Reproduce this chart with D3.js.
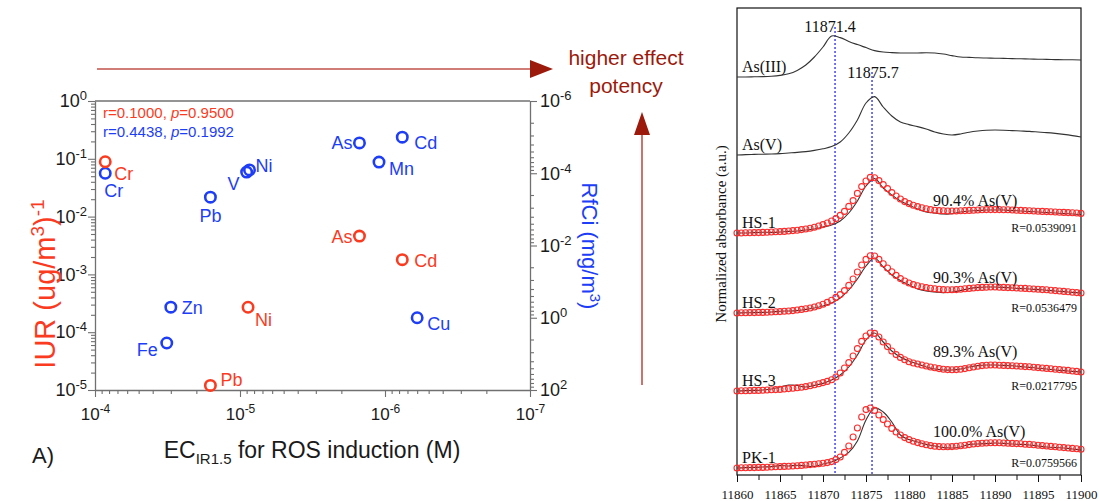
<!DOCTYPE html>
<html lang="en">
  <head>
    <meta charset="UTF-8" />
    <title>ROS induction and As XANES</title>
    <style>
      body {
        margin: 0;
        background: #fff;
      }
      svg {
        display: block;
      }
      text {
        font-family: "Liberation Sans", Arial, sans-serif;
      }
      text.serif,
      .serif text {
        font-family: "Liberation Serif", "Times New Roman", serif;
      }
    </style>
  </head>
  <body>
    <svg id="svg" width="1099" height="501"></svg>
    <script src="https://cdn.jsdelivr.net/npm/d3@7"></script>
    <script>
      // ---------- panel A: IUR / RfCi vs EC ----------
      const iurMetals = ["Cr", "As", "Cd", "Ni", "Pb"];
      const iurEC = [8.5e-5, 1.5e-6, 7.6e-7, 8.8e-6, 1.6e-5];
      const iurValues = [0.089, 4.6e-3, 1.8e-3, 2.7e-4, 1.2e-5];

      const rfcMetals = ["Cr", "Pb", "V", "Ni", "As", "Cd", "Mn", "Zn", "Fe", "Cu"];
      const rfcEC = [8.5e-5, 1.6e-5, 9.0e-6, 8.6e-6, 1.5e-6, 7.6e-7, 1.1e-6, 3.0e-5, 3.2e-5, 6.0e-7];
      const rfcValues = [1.0e-4, 4.6e-4, 9.3e-5, 8.1e-5, 1.45e-5, 1.0e-5, 4.9e-5, 0.51, 5.0, 1.0];

      const corrR = ["0.1000", "0.4438"];
      const corrP = ["0.9500", "0.1992"];

      // ---------- panel B: As K-edge XANES ----------
      const spectraNames = ["As(III)", "As(V)", "HS-1", "HS-2", "HS-3", "PK-1"];
      const spectraOffsets = [19.9, 16.0, 12.1, 8.1, 4.2, 0.35];
      const peakEnergies = [11871.4, 11875.7];

      // measured spectra, 11860..11900 eV every 1 eV
      const asIII = [
        0.0, 0.0, 0.01, 0.02, 0.04, 0.08, 0.16, 0.33, 0.6, 1.0,
        1.5, 2.05, 1.97, 1.78, 1.62, 1.47, 1.32, 1.25, 1.22, 1.2,
        1.2, 1.2, 1.21, 1.2, 1.15, 1.07, 1.0, 0.98, 0.96, 0.95,
        0.94, 0.93, 0.92, 0.91, 0.9, 0.89, 0.88, 0.87, 0.86, 0.86,
        0.85,
      ];
      const asV = [
        0.0, 0.02, 0.03, 0.04, 0.05, 0.07, 0.1, 0.13, 0.17, 0.23,
        0.31, 0.42, 0.65, 1.1, 1.75, 2.6, 2.92, 2.4, 1.95, 1.65,
        1.52, 1.42, 1.3, 1.15, 1.05, 1.0, 1.05, 1.14, 1.2, 1.24,
        1.25, 1.24, 1.22, 1.2, 1.18, 1.15, 1.12, 1.08, 1.03, 0.97,
        0.9,
      ];
      const hs1 = [
        0.0, 0.0, 0.02, 0.04, 0.03, 0.05, 0.08, 0.1, 0.15, 0.2,
        0.3, 0.4, 0.6, 1.0, 1.6, 2.35, 2.72, 2.25, 1.9, 1.6,
        1.4, 1.2, 1.05, 1.0, 0.95, 0.96, 1.05, 1.1, 1.12, 1.15,
        1.15, 1.15, 1.12, 1.1, 1.07, 1.05, 1.02, 1.0, 0.97, 0.95,
        0.92,
      ];
      const hs2 = [
        0.0, 0.01, 0.02, 0.03, 0.05, 0.09, 0.1, 0.12, 0.18, 0.25,
        0.35, 0.5, 0.75, 1.15, 1.7, 2.35, 2.75, 2.3, 1.9, 1.62,
        1.4, 1.2, 1.1, 1.05, 1.02, 1.05, 1.12, 1.22, 1.28, 1.3,
        1.3, 1.28, 1.25, 1.22, 1.2, 1.17, 1.14, 1.1, 1.07, 1.03,
        1.0,
      ];
      const hs3 = [
        0.0, 0.02, 0.03, 0.05, 0.1, 0.2, 0.3, 0.28, 0.2, 0.28,
        0.38, 0.55, 0.8, 1.2, 1.8, 2.55, 2.9, 2.45, 2.0, 1.7,
        1.5, 1.35, 1.2, 1.1, 1.05, 1.05, 1.1, 1.2, 1.27, 1.3,
        1.3, 1.28, 1.26, 1.22, 1.18, 1.14, 1.1, 1.05, 1.02, 0.98,
        0.95,
      ];
      const pk1 = [
        0.0, 0.02, 0.03, 0.05, 0.07, 0.12, 0.1, 0.14, 0.1, 0.08,
        0.2, 0.3, 0.5, 0.78, 1.35, 2.4, 3.0, 2.8, 2.3, 1.65,
        1.42, 1.3, 1.18, 1.1, 1.02, 1.0, 1.05, 1.18, 1.2, 1.22,
        1.25, 1.23, 1.2, 1.18, 1.15, 1.1, 1.05, 1.02, 1.0, 0.95,
        0.9,
      ];

      // linear combination fits, 11860..11900 eV every 0.5 eV
      const fitNames = ["HS-1", "HS-2", "HS-3", "PK-1"];
      const fitPercent = ["90.4% As(V)", "90.3% As(V)", "89.3% As(V)", "100.0% As(V)"];
      const fitR = ["R=0.0539091", "R=0.0536479", "R=0.0217795", "R=0.0759566"];
      const fitHS1 = [
        0.0, 0.0, 0.01, 0.01, 0.02, 0.02, 0.03, 0.04, 0.05, 0.06,
        0.07, 0.08, 0.1, 0.12, 0.14, 0.17, 0.2, 0.24, 0.29, 0.35,
        0.42, 0.5, 0.6, 0.72, 0.88, 1.08, 1.33, 1.62, 1.98, 2.32,
        2.6, 2.78, 2.76, 2.62, 2.42, 2.22, 2.02, 1.85, 1.7, 1.57,
        1.47, 1.39, 1.32, 1.26, 1.21, 1.17, 1.14, 1.12, 1.11, 1.1,
        1.1, 1.1, 1.11, 1.12, 1.13, 1.14, 1.15, 1.16, 1.17, 1.17,
        1.17, 1.17, 1.16, 1.16, 1.15, 1.14, 1.13, 1.12, 1.11, 1.1,
        1.09, 1.08, 1.07, 1.06, 1.05, 1.04, 1.03, 1.02, 1.01, 1.0,
        0.98,
      ];
      const fitHS2 = [
        0.0, 0.01, 0.01, 0.02, 0.02, 0.03, 0.03, 0.04, 0.05, 0.06,
        0.07, 0.09, 0.1, 0.12, 0.15, 0.18, 0.21, 0.25, 0.3, 0.36,
        0.44, 0.53, 0.64, 0.78, 0.92, 1.12, 1.38, 1.7, 2.05, 2.4,
        2.68, 2.86, 2.85, 2.68, 2.46, 2.25, 2.06, 1.88, 1.72, 1.6,
        1.5, 1.42, 1.36, 1.31, 1.27, 1.24, 1.21, 1.19, 1.17, 1.16,
        1.16, 1.17, 1.19, 1.21, 1.23, 1.25, 1.27, 1.28, 1.29, 1.3,
        1.3, 1.29, 1.28, 1.27, 1.26, 1.25, 1.24, 1.23, 1.21, 1.2,
        1.19, 1.17, 1.16, 1.14, 1.12, 1.1, 1.08, 1.06, 1.04, 1.02,
        1.0,
      ];
      const fitHS3 = [
        0.0, 0.01, 0.01, 0.02, 0.03, 0.03, 0.04, 0.05, 0.06, 0.07,
        0.08, 0.1, 0.12, 0.14, 0.16, 0.19, 0.22, 0.26, 0.31, 0.36,
        0.42, 0.48, 0.56, 0.7, 0.9, 1.15, 1.42, 1.75, 2.12, 2.48,
        2.75, 2.9, 2.88, 2.7, 2.45, 2.22, 2.0, 1.82, 1.68, 1.56,
        1.46, 1.4, 1.35, 1.3, 1.25, 1.2, 1.16, 1.12, 1.09, 1.07,
        1.06, 1.07, 1.09, 1.12, 1.16, 1.2, 1.24, 1.27, 1.29, 1.3,
        1.3, 1.29, 1.28, 1.27, 1.26, 1.25, 1.24, 1.22, 1.21, 1.19,
        1.17, 1.15, 1.13, 1.11, 1.09, 1.07, 1.05, 1.03, 1.0, 0.98,
        0.95,
      ];
      const fitPK1 = [
        0.0, 0.01, 0.01, 0.02, 0.02, 0.03, 0.03, 0.04, 0.05, 0.06,
        0.07, 0.08, 0.09, 0.1, 0.11, 0.13, 0.15, 0.17, 0.19, 0.21,
        0.24, 0.27, 0.32, 0.42, 0.55, 0.78, 1.1, 1.55, 2.0, 2.55,
        2.92, 3.0, 2.88, 2.65, 2.42, 2.2, 1.98, 1.8, 1.65, 1.52,
        1.42, 1.34, 1.27, 1.21, 1.16, 1.12, 1.09, 1.07, 1.06, 1.06,
        1.07, 1.09, 1.11, 1.14, 1.17, 1.2, 1.22, 1.24, 1.25, 1.26,
        1.26, 1.26, 1.25, 1.24, 1.23, 1.22, 1.21, 1.19, 1.18, 1.16,
        1.14, 1.12, 1.1, 1.08, 1.06, 1.04, 1.02, 1.0, 0.98, 0.96,
        0.94,
      ];

      const spectra = [asIII, asV, hs1, hs2, hs3, pk1];
      const fits = [fitHS1, fitHS2, fitHS3, fitPK1];
      const refEnergy = d3.range(11860, 11900.5, 1);
      const fitEnergy = d3.range(11860, 11900.25, 0.5);

      // ---------- styles ----------
      const RED = "#fb3b1f";
      const BLUE = "#1d3ef6";
      const DARKRED = "#9c1a0c";
      const ARROW_LINE = "#c0504a";
      const AXIS = "#707070";

      // label placement next to each circle: [dx, dy, anchor]
      const iurLabelPos = {
        Cr: [9, 18, "start"], As: [-7, 7, "end"], Cd: [12, 7, "start"],
        Ni: [7, 19, "start"], Pb: [10, 1, "start"],
      };
      const rfcLabelPos = {
        Cr: [-1, 24, "start"], Pb: [0, 25, "middle"], V: [-7, 18, "end"],
        Ni: [6, 2, "start"], As: [-7, 6, "end"], Cd: [12, 12, "start"],
        Mn: [10, 13, "start"], Zn: [11, 7, "start"], Fe: [-9, 13, "end"],
        Cu: [10, 12, "start"],
      };

      const svg = d3.select("#svg");

      // ================= panel A =================
      const xEC = d3.scaleLog().domain([1e-4, 1e-7]).range([95, 530]);
      const yIUR = d3.scaleLog().domain([1e-5, 1]).range([390, 101]);
      const yRfC = d3.scaleLog().domain([1e2, 1e-6]).range([390, 101]);

      const isMajor = (d) =>
        Math.abs(Math.log10(d) - Math.round(Math.log10(d))) < 1e-9;

      function powLabel(sel, supSize, dy) {
        sel.each(function (d) {
          const t = d3.select(this).text("10");
          t.append("tspan")
            .attr("font-size", supSize)
            .attr("dy", dy)
            .text(Math.round(Math.log10(d)));
        });
      }

      function styleAxis(g, size) {
        g.attr("font-family", null).attr("font-size", size);
        g.select(".domain").attr("stroke", AXIS).attr("stroke-width", 1.3);
        g.selectAll(".tick line").attr("stroke", AXIS).attr("stroke-width", 1.1);
        g.selectAll(".tick text").attr("fill", "#1a1a1a").attr("font-size", size);
      }

      // left axis (IUR)
      const gLeft = svg
        .append("g")
        .attr("transform", "translate(95,0)")
        .call(
          d3.axisLeft(yIUR).tickValues(yIUR.ticks()).tickSize(7)
            .tickSizeOuter(0).tickPadding(1).tickFormat("")
        );
      styleAxis(gLeft, 18);
      gLeft.selectAll(".tick").filter((d) => !isMajor(d)).select("line").attr("x2", -4);
      powLabel(gLeft.selectAll(".tick").filter(isMajor).select("text"), 13, -7);

      // right axis (RfCi), minor ticks spread over two decades
      const rfcTicks = [];
      [-6, -4, -2, 0].forEach((k) => {
        for (let m = 1; m <= 9; m++) rfcTicks.push(m * m * Math.pow(10, k));
      });
      rfcTicks.push(100);
      const gRight = svg
        .append("g")
        .attr("transform", "translate(530,0)")
        .call(
          d3.axisRight(yRfC).tickValues(rfcTicks).tickSize(7)
            .tickSizeOuter(0).tickPadding(3).tickFormat("")
        );
      styleAxis(gRight, 18);
      gRight.selectAll(".tick").filter((d) => !isMajor(d)).select("line").attr("x2", 4);
      powLabel(gRight.selectAll(".tick").filter(isMajor).select("text"), 13, -7);

      // bottom axis (EC)
      const gBottom = svg
        .append("g")
        .attr("transform", "translate(0,390)")
        .call(
          d3.axisBottom(xEC).tickValues(xEC.ticks()).tickSize(7)
            .tickSizeOuter(0).tickPadding(11).tickFormat("")
        );
      styleAxis(gBottom, 17);
      gBottom.selectAll(".tick").filter((d) => !isMajor(d)).select("line").attr("y2", 4);
      powLabel(gBottom.selectAll(".tick").filter(isMajor).select("text"), 12, -7);

      // top frame line
      svg.append("line")
        .attr("x1", xEC(1e-4)).attr("x2", xEC(1e-7))
        .attr("y1", yIUR(1)).attr("y2", yIUR(1))
        .attr("stroke", AXIS).attr("stroke-width", 1.3);

      // points
      const pts = svg.append("g");
      pts.selectAll("circle.rfc")
        .data(rfcMetals)
        .join("circle")
        .attr("class", "rfc")
        .attr("cx", (d, i) => xEC(rfcEC[i]))
        .attr("cy", (d, i) => yRfC(rfcValues[i]))
        .attr("r", 5.2)
        .attr("fill", "none")
        .attr("stroke", BLUE)
        .attr("stroke-width", 2.6);
      pts.selectAll("circle.iur")
        .data(iurMetals)
        .join("circle")
        .attr("class", "iur")
        .attr("cx", (d, i) => xEC(iurEC[i]))
        .attr("cy", (d, i) => yIUR(iurValues[i]))
        .attr("r", 5.2)
        .attr("fill", "none")
        .attr("stroke", RED)
        .attr("stroke-width", 2.6);

      pts.selectAll("text.rfc")
        .data(rfcMetals)
        .join("text")
        .attr("class", "rfc")
        .attr("x", (d, i) => xEC(rfcEC[i]) + rfcLabelPos[d][0])
        .attr("y", (d, i) => yRfC(rfcValues[i]) + rfcLabelPos[d][1])
        .attr("text-anchor", (d) => rfcLabelPos[d][2])
        .attr("font-size", 18)
        .attr("fill", BLUE)
        .text((d) => d);
      pts.selectAll("text.iur")
        .data(iurMetals)
        .join("text")
        .attr("class", "iur")
        .attr("x", (d, i) => xEC(iurEC[i]) + iurLabelPos[d][0])
        .attr("y", (d, i) => yIUR(iurValues[i]) + iurLabelPos[d][1])
        .attr("text-anchor", (d) => iurLabelPos[d][2])
        .attr("font-size", 18)
        .attr("fill", RED)
        .text((d) => d);

      // correlation notes
      [RED, BLUE].forEach((c, i) => {
        const t = svg.append("text")
          .attr("x", 103).attr("y", 118 + i * 19)
          .attr("font-size", 15).attr("fill", c);
        t.append("tspan").text(`r=${corrR[i]}, `);
        t.append("tspan").attr("font-style", "italic").text("p");
        t.append("tspan").text(`=${corrP[i]}`);
      });

      // axis titles
      const iurTitle = svg.append("text")
        .attr("transform", "translate(55,284) rotate(-90)")
        .attr("text-anchor", "middle").attr("font-size", 29).attr("fill", RED);
      iurTitle.append("tspan").text("IUR (ug/m");
      iurTitle.append("tspan").attr("font-size", 19).attr("dy", -11).text("3");
      iurTitle.append("tspan").attr("dy", 11).text(")");
      iurTitle.append("tspan").attr("font-size", 19).attr("dy", -11).text("-1");

      const rfcTitle = svg.append("text")
        .attr("transform", "translate(582,246) rotate(90)")
        .attr("text-anchor", "middle").attr("font-size", 22).attr("fill", BLUE);
      rfcTitle.append("tspan").text("RfCi (mg/m");
      rfcTitle.append("tspan").attr("font-size", 15).attr("dy", -8).text("3");
      rfcTitle.append("tspan").attr("dy", 8).text(")");

      const xTitle = svg.append("text")
        .attr("x", 312).attr("y", 458)
        .attr("text-anchor", "middle").attr("font-size", 23).attr("fill", "#1a1a1a");
      xTitle.append("tspan").text("EC");
      xTitle.append("tspan").attr("font-size", 15).attr("dy", 6).text("IR1.5");
      xTitle.append("tspan").attr("dy", -6).text(" for ROS induction (M)");

      svg.append("text")
        .attr("x", 32).attr("y", 463)
        .attr("font-size", 22).attr("fill", "#1a1a1a")
        .text("A)");

      // potency arrows
      svg.append("line")
        .attr("x1", 97).attr("x2", 532).attr("y1", 69).attr("y2", 69)
        .attr("stroke", ARROW_LINE).attr("stroke-width", 1.6);
      svg.append("path")
        .attr("d", "M530,60 L553,69 L530,78 Z")
        .attr("fill", DARKRED);
      svg.append("line")
        .attr("x1", 642).attr("x2", 642).attr("y1", 385).attr("y2", 133)
        .attr("stroke", ARROW_LINE).attr("stroke-width", 1.6);
      svg.append("path")
        .attr("d", "M634,135 L642,112 L650,135 Z")
        .attr("fill", DARKRED);
      ["higher effect", "potency"].forEach((s, i) => {
        svg.append("text")
          .attr("x", 626).attr("y", 65 + i * 28)
          .attr("text-anchor", "middle")
          .attr("font-size", 21).attr("fill", DARKRED)
          .text(s);
      });

      // ================= panel B =================
      const xE = d3.scaleLinear().domain([11860, 11900]).range([737, 1081]);
      const yA = d3.scaleLinear().domain([0, 23.35]).range([475, 8]);

      const gB = svg.append("g");
      gB.append("rect")
        .attr("x", xE(11860)).attr("y", yA(23.35))
        .attr("width", xE(11900) - xE(11860)).attr("height", yA(0) - yA(23.35))
        .attr("fill", "none").attr("stroke", "#111").attr("stroke-width", 1.2);

      const gEAxis = gB.append("g")
        .attr("transform", `translate(0,${yA(0)})`)
        .call(
          d3.axisBottom(xE).tickValues(d3.range(11860, 11900.1, 2.5))
            .tickSize(7).tickSizeOuter(0).tickPadding(8)
            .tickFormat((d) => (d % 5 === 0 ? d : ""))
        );
      gEAxis.attr("font-family", null).attr("font-size", 13).attr("class", "serif");
      gEAxis.select(".domain").remove();
      gEAxis.selectAll(".tick line").attr("stroke", "#111");
      gEAxis.selectAll(".tick").filter((d) => d % 5 !== 0).select("line").attr("y2", 5);
      gEAxis.selectAll(".tick text").attr("fill", "#111");

      // peak guides
      const peakTop = [27, 72];
      peakEnergies.forEach((e, i) => {
        gB.append("line")
          .attr("x1", xE(e)).attr("x2", xE(e))
          .attr("y1", peakTop[i]).attr("y2", yA(0))
          .attr("stroke", "#2a2ae8").attr("stroke-width", 1.3)
          .attr("stroke-dasharray", "2,2");
      });
      gB.append("text").attr("class", "serif")
        .attr("x", xE(peakEnergies[0]) - 5).attr("y", 32)
        .attr("text-anchor", "middle").attr("font-size", 16).attr("fill", "#111")
        .text(peakEnergies[0].toFixed(1));
      gB.append("text").attr("class", "serif")
        .attr("x", xE(peakEnergies[1]) + 1).attr("y", 78)
        .attr("text-anchor", "middle").attr("font-size", 16).attr("fill", "#111")
        .text(peakEnergies[1].toFixed(1));

      const lineGen = d3.line()
        .x((d) => xE(d[0]))
        .y((d) => yA(d[1]))
        .curve(d3.curveCatmullRom);

      spectra.forEach((vals, k) => {
        const off = spectraOffsets[k];
        gB.append("path")
          .datum(vals.map((v, i) => [refEnergy[i], v + off]))
          .attr("d", lineGen)
          .attr("fill", "none")
          .attr("stroke", "#333")
          .attr("stroke-width", 1.1);
        gB.append("text").attr("class", "serif")
          .attr("x", 742).attr("y", yA(off) - 5)
          .attr("font-size", 16).attr("fill", "#111")
          .text(spectraNames[k]);
      });

      const pctDy = [-27, -30, -34, -31];
      fits.forEach((vals, k) => {
        const off = spectraOffsets[k + 2];
        gB.append("g")
          .selectAll("circle")
          .data(vals)
          .join("circle")
          .attr("cx", (d, i) => xE(fitEnergy[i]))
          .attr("cy", (d) => yA(d + off))
          .attr("r", 3)
          .attr("fill", "none")
          .attr("stroke", "#ff2a2a")
          .attr("stroke-width", 1.1);
        gB.append("text").attr("class", "serif")
          .attr("x", 933).attr("y", yA(off) + pctDy[k])
          .attr("font-size", 16).attr("fill", "#111")
          .text(fitPercent[k]);
        gB.append("text").attr("class", "serif")
          .attr("x", 1077).attr("y", yA(off) - 1)
          .attr("text-anchor", "end")
          .attr("font-size", 12).attr("fill", "#111")
          .text(fitR[k]);
      });

      svg.append("text").attr("class", "serif")
        .attr("transform", "translate(726,234) rotate(-90)")
        .attr("text-anchor", "middle")
        .attr("font-size", 15).attr("fill", "#111")
        .text("Normalized absorbance (a.u.)");
    </script>
  </body>
</html>
